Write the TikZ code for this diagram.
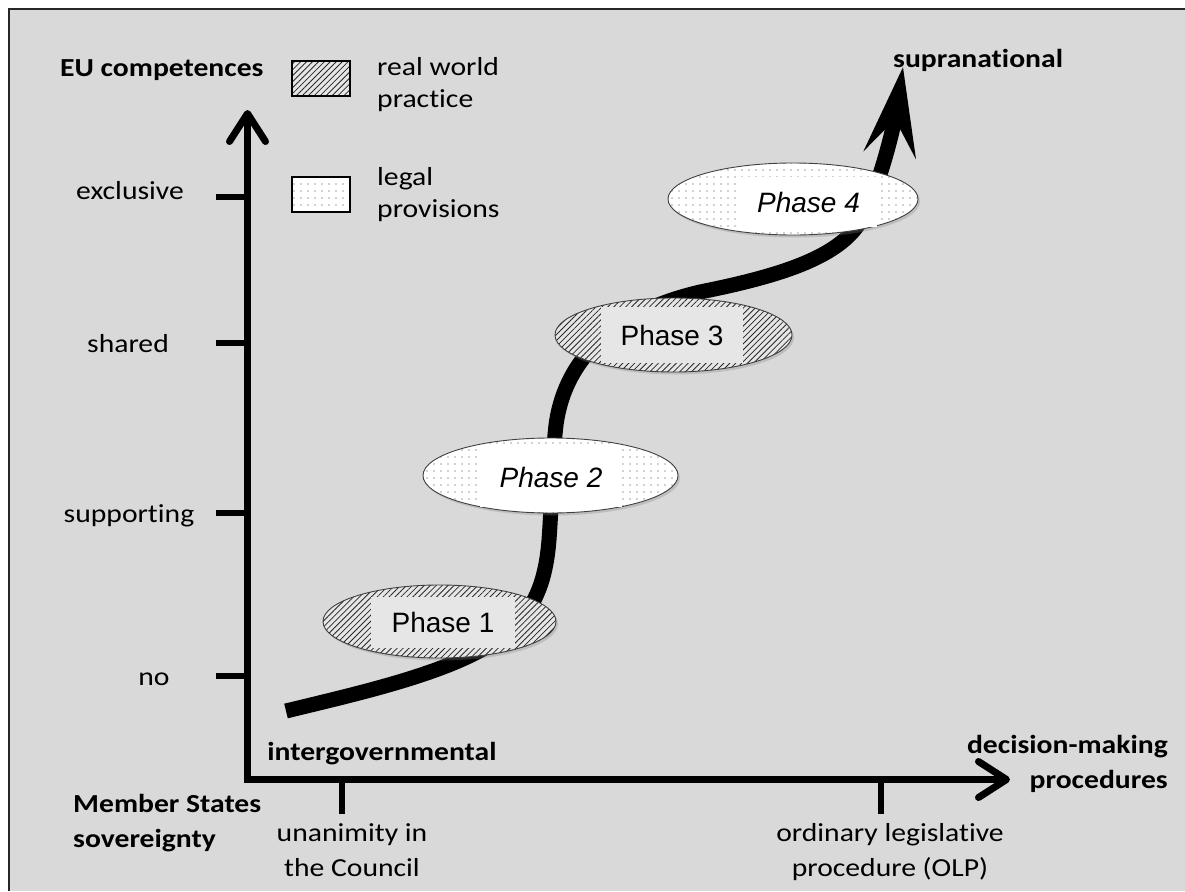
\documentclass[tikz,border=0pt]{standalone}
\usepackage{fontspec}
\setmainfont{Carlito}[FakeStretch=1.14, Ligatures=NoCommon]
\newfontfamily\phasefont{Liberation Sans}
\usetikzlibrary{arrows.meta,patterns.meta,shapes.geometric,shadows}
\definecolor{bgc}{HTML}{D9D9D9}
\definecolor{hbase}{HTML}{E6E6E6}
\tikzset{
  lbl/.style={font=\fontsize{26}{35}\selectfont, inner sep=0pt},
  blbl/.style={font=\fontsize{26}{35}\selectfont\bfseries, inner sep=0pt},
  leglbl/.style={font=\fontsize{26}{31.5}\selectfont, inner sep=0pt, align=left, anchor=base west},
  hatchfill/.style={preaction={fill=hbase}, pattern={Lines[angle=45,distance=4.2pt,line width=0.8pt]}, pattern color=black!85},
  dotfill/.style={preaction={fill=white}, pattern={Dots[distance=7pt,radius=0.65pt]}, pattern color=black!75},
  phase/.style={ellipse, draw=black!75, line width=0.9pt, inner sep=0pt,
    drop shadow={shadow xshift=2pt, shadow yshift=-2.5pt, opacity=0.3}},
  plabel/.style={font=\phasefont\fontsize{28}{32}\selectfont, inner sep=0pt},
  legbox/.style={draw=black, line width=1.2pt, minimum width=58pt, minimum height=35pt, inner sep=0pt},
  axis/.style={line width=7pt, line join=miter,
    {Straight Barb[length=28pt,width=36pt,round]}-{Straight Barb[length=28pt,width=36pt,round]}},
  tick/.style={line width=5.5pt},
  curve/.style={line width=15pt, -{Stealth[length=88pt,width=52pt,inset=35pt]}},
}
\begin{document}
\begin{tikzpicture}[x=1pt,y=-1pt]
\useasboundingbox (0,0) rectangle (1185,891);
\fill[white] (0,0) rectangle (1185,891);
\fill[bgc] (9,9) rectangle (1185,891);
\draw[line width=2pt, black!85] (9,891) -- (9,9) -- (1185,9);

% axes
\coordinate (O) at (247.5,779.5);
\coordinate (Ytip) at (247.5,110);
\coordinate (Xtip) at (1010,779.5);
\draw[axis] (Ytip) -- (O) -- (Xtip);

% y ticks
\coordinate (yt1) at (216,197);
\coordinate (yt2) at (216,343);
\coordinate (yt3) at (216,513);
\coordinate (yt4) at (216,676);
\foreach \t in {yt1,yt2,yt3,yt4} \draw[tick] (\t) -- (\t -| O);
% x ticks
\coordinate (xt1) at (342,814);
\coordinate (xt2) at (881,814);
\foreach \t in {xt1,xt2} \draw[tick] (\t) -- (\t |- O);

% labels
\node[blbl, anchor=base west] (eu) at (60,77) {EU competences};
\node[lbl, anchor=base] (excl) at (130,199) {exclusive};
\node[lbl, anchor=base] (shrd) at (128,352) {shared};
\node[lbl, anchor=base] (supp) at (129,522) {supporting};
\node[lbl, anchor=base] (no) at (154,685) {no};
\node[blbl, anchor=base] (intg) at (382,760) {intergovernmental};
\node[blbl, anchor=base west, align=left] (mss) at (73,847) {Member States\\sovereignty};
\node[lbl, anchor=base, align=center] (unan) at (352,876) {unanimity in\\the Council};
\node[lbl, anchor=base, align=center] (olp) at (890,876) {ordinary legislative\\procedure (OLP)};
\node[blbl, anchor=base east, align=right] (dmp) at (1168,788) {decision-making\\procedures};
\node[blbl, anchor=base west] (supra) at (893,67) {supranational};

% legend
\node[legbox, hatchfill] (lg1) at (321,78.5) {};
\node[legbox, dotfill] (lg2) at (321,194.5) {};
\node[leglbl] (lt1) at (377,107) {real world\\practice};
\node[leglbl] (lt2) at (377,217) {legal\\provisions};

% curve
\coordinate (cstart) at (286,711);
\coordinate (ctip) at (903,67);
\draw[curve] (cstart) .. controls (360,693) and (440,675) .. (490,645)
  .. controls (530,620) and (545,590) .. (549,540)
  .. controls (552,500) and (552,460) .. (556,425)
  .. controls (562,380) and (590,318) .. (700,292)
  .. controls (780,276) and (835,258) .. (858,225)
  .. controls (880,190) and (895,120) .. (ctip);

% phases
\node[phase, hatchfill, minimum width=233pt, minimum height=73pt] (ph1) at (439.5,621.5) {};
\node[plabel, fill=hbase, minimum width=144pt, minimum height=51pt] (t1) at (443,622.5) {Phase 1};
\node[phase, dotfill, minimum width=255pt, minimum height=75pt] (ph2) at (550.5,475.5) {};
\node[plabel, fill=white, minimum width=142pt, minimum height=60pt] (t2) at (551,477) {\itshape Phase 2};
\node[phase, hatchfill, minimum width=237pt, minimum height=74pt] (ph3) at (673.5,335) {};
\node[plabel, fill=hbase, minimum width=142pt, minimum height=56pt] (t3) at (672,335) {Phase 3};
\node[phase, dotfill, minimum width=250pt, minimum height=72pt] (ph4) at (793,199) {};
\node[plabel, fill=white, minimum width=137pt, minimum height=50pt] (t4) at (808.5,202) {\itshape Phase 4};
\end{tikzpicture}
\end{document}
